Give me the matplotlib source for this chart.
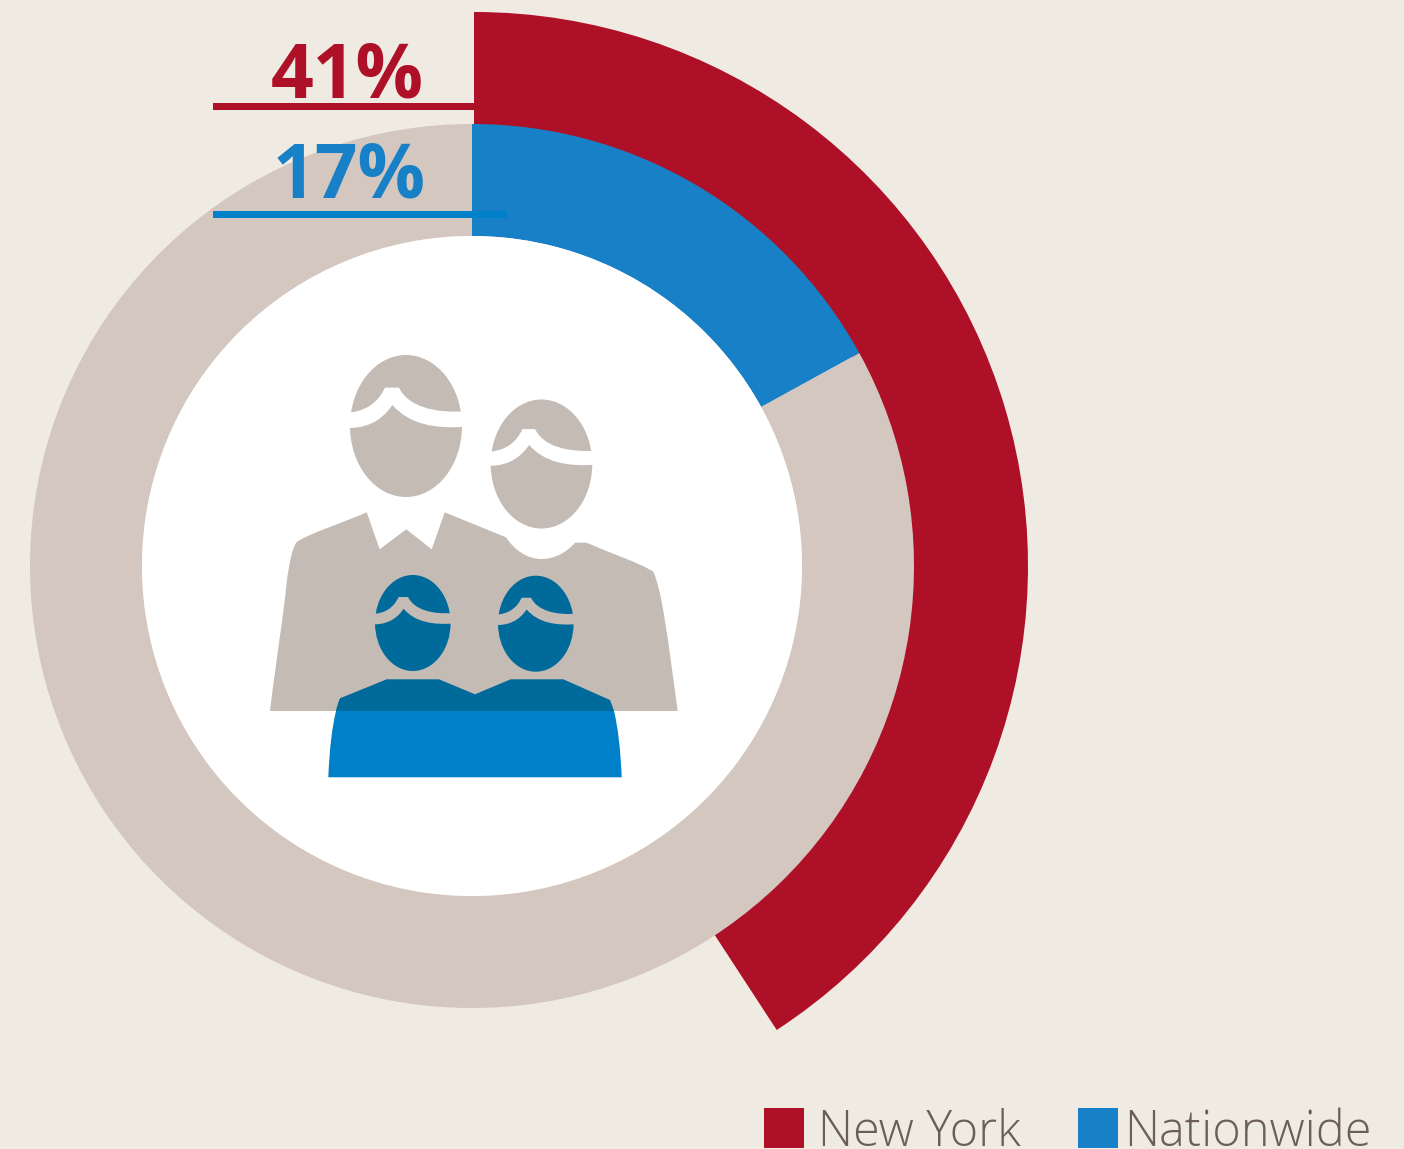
import matplotlib
matplotlib.use('Agg')
import matplotlib.pyplot as plt
from matplotlib.patches import Ellipse, PathPatch, Rectangle
from matplotlib.path import Path

# shares of the ring
ny_label = '41%'
us_label = '17%'
ny_arc = [40.8, 59.2]
us_arc = [17, 83]
legend_names = ['New York', 'Nationwide']

bg = '#EFEAE2'
ring_grey = '#D3C7BF'
red = '#AE1028'
blue = '#1780C6'
line_blue = '#0080C8'
icon_grey = '#C4BBB5'
kid_dark = '#006A9B'
legend_text = '#6B5F54'

plt.rcParams['font.family'] = ['Open Sans', 'DejaVu Sans']

fig = plt.figure(figsize=(14.04, 11.49), dpi=100, facecolor=bg)
ax = fig.add_axes([0, 0, 1, 1])
ax.set_facecolor(bg)


def ring(values, colors, center, radius, width, z):
    # y axis is flipped, so counterclock here reads clockwise on screen
    wedges, _ = ax.pie(values, colors=colors, center=center, radius=radius,
                       startangle=-90, counterclock=True, frame=True,
                       wedgeprops={'width': width, 'linewidth': 0})
    for w in wedges:
        w.set_zorder(z)
    return wedges


ring(ny_arc, [red, 'none'], (474, 566), 554, 122, 1)
ring(us_arc, [blue, ring_grey], (472, 566), 442, 112, 2)

ax.set_xlim(0, 1404)
ax.set_ylim(1149, 0)
ax.set_aspect('equal')
ax.axis('off')
ax.patch.set_visible(True)


def head(cx, cy, a, b, color, gap, z=4):
    ax.add_patch(Ellipse((cx, cy), 2 * a, 2 * b, facecolor=color, lw=0, zorder=z))
    # hair parting, drawn in unit head coordinates
    verts = [(-1.12, -0.185), (-0.72, -0.19), (-0.5, -0.33), (-0.375, -0.541),
             (-0.125, -0.541),
             (0.03, -0.28), (0.5, -0.17), (1.12, -0.21),
             (1.12, 0.007),
             (0.5, 0.05), (0.05, -0.03), (-0.244, -0.297),
             (-0.45, -0.05), (-0.75, 0.045), (-1.12, 0.026),
             (-1.12, -0.185)]
    codes = [Path.MOVETO, Path.CURVE4, Path.CURVE4, Path.CURVE4,
             Path.LINETO,
             Path.CURVE4, Path.CURVE4, Path.CURVE4,
             Path.LINETO,
             Path.CURVE4, Path.CURVE4, Path.CURVE4,
             Path.CURVE4, Path.CURVE4, Path.CURVE4,
             Path.CLOSEPOLY]
    pts = [(cx + u * a, cy + v * b) for u, v in verts]
    ax.add_patch(PathPatch(Path(pts, codes), facecolor=gap, lw=0, zorder=z + 1))


# white disc is left by the ring hole
ax.add_patch(Ellipse((472, 566), 660, 660, facecolor='white', lw=0, zorder=3))

# adults
adult_verts = [(270, 711), (276, 660), (283, 620), (287, 580),
               (289, 565), (292, 548), (296.7, 542),
               (310, 533), (340, 524), (366.7, 512.3),
               (379.7, 549.3), (406.3, 529.3), (431.7, 549.3), (444.7, 512.3),
               (506, 537.3),
               (515, 551), (528, 559), (541.7, 559),
               (555, 559), (567, 552), (575, 542.7),
               (586.7, 542.7),
               (610, 553), (640, 563), (653.3, 571.7),
               (662, 590), (668, 640), (677.7, 711),
               (270, 711)]
adult_codes = [Path.MOVETO, Path.CURVE4, Path.CURVE4, Path.CURVE4,
               Path.CURVE4, Path.CURVE4, Path.CURVE4,
               Path.CURVE4, Path.CURVE4, Path.CURVE4,
               Path.LINETO, Path.LINETO, Path.LINETO, Path.LINETO,
               Path.LINETO,
               Path.CURVE4, Path.CURVE4, Path.CURVE4,
               Path.CURVE4, Path.CURVE4, Path.CURVE4,
               Path.LINETO,
               Path.CURVE4, Path.CURVE4, Path.CURVE4,
               Path.CURVE4, Path.CURVE4, Path.CURVE4,
               Path.CLOSEPOLY]
ax.add_patch(PathPatch(Path(adult_verts, adult_codes), facecolor=icon_grey, lw=0, zorder=4))
head(406, 426, 56, 71, icon_grey, 'white')
head(541.5, 464, 50.8, 64.5, icon_grey, 'white')

# children, darker where they overlap the adults
kid_top = [(336, 711), (337, 705), (340, 698.3), (386.7, 679.3), (439, 679.3), (475, 694.3),
           (510.7, 679.3), (563.3, 679.3), (610, 700), (612, 705), (614, 711), (336, 711)]
kid_top_codes = [Path.MOVETO, Path.CURVE3, Path.CURVE3, Path.LINETO, Path.LINETO, Path.LINETO,
                 Path.LINETO, Path.LINETO, Path.LINETO, Path.CURVE3, Path.CURVE3, Path.CLOSEPOLY]
ax.add_patch(PathPatch(Path(kid_top, kid_top_codes), facecolor=kid_dark, lw=0, zorder=6))
kid_low = [(336, 711), (330, 735), (328.3, 777.3), (621.7, 777.3), (620, 735), (614, 711), (336, 711)]
kid_low_codes = [Path.MOVETO, Path.CURVE3, Path.CURVE3, Path.LINETO, Path.CURVE3, Path.CURVE3,
                 Path.CLOSEPOLY]
ax.add_patch(PathPatch(Path(kid_low, kid_low_codes), facecolor=line_blue, lw=0, zorder=6))
head(412.8, 623, 37.8, 48, kid_dark, icon_grey, z=7)
head(535.8, 623.7, 37.8, 48, kid_dark, icon_grey, z=7)

# callouts
ax.add_patch(Rectangle((213, 102.5), 261, 7.5, facecolor=red, lw=0, zorder=9))
ax.add_patch(Rectangle((213, 210.7), 294, 7.3, facecolor=line_blue, lw=0, zorder=9))
ax.text(347.5, 98, ny_label, color=red, fontsize=54, fontweight='bold',
        ha='center', va='baseline', zorder=10)
ax.text(349.5, 198, us_label, color=blue, fontsize=54, fontweight='bold',
        ha='center', va='baseline', zorder=10)

# legend
ax.add_patch(Rectangle((764, 1108), 40, 40, facecolor=red, lw=0))
ax.add_patch(Rectangle((1078, 1108), 40, 40, facecolor=blue, lw=0))
ax.text(818, 1146, legend_names[0], color=legend_text, fontsize=35, fontweight='light',
        ha='left', va='baseline')
ax.text(1124, 1146, legend_names[1], color=legend_text, fontsize=35, fontweight='light',
        ha='left', va='baseline')

fig.savefig('out.png', dpi=100, facecolor=bg)
